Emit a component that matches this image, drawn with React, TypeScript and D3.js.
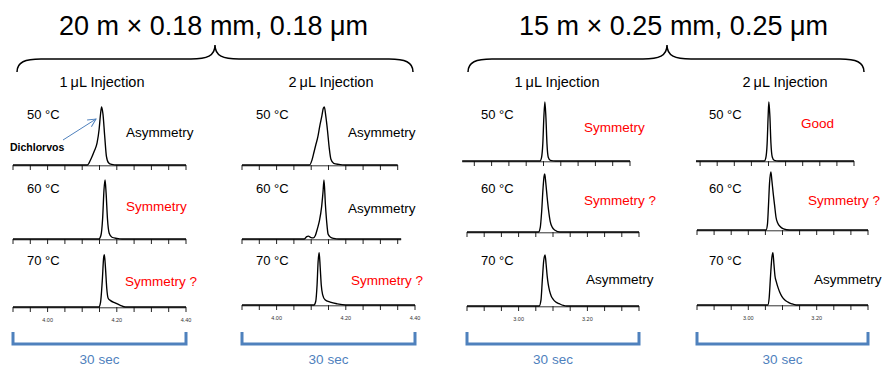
import React from "react";
import * as d3 from "d3";

// ---------- data ----------
const COLUMN_TITLES = ["20 m × 0.18 mm, 0.18 μm", "15 m × 0.25 mm, 0.25 μm"];
const INJECTION_VOLUMES = ["1", "2", "1", "2"];
const INJECTION_UNIT = "μL Injection";
const TEMPERATURES = ["50 °C", "60 °C", "70 °C"];
const DOMAIN_20M: [number, number] = [3.9, 4.4];
const DOMAIN_15M: [number, number] = [2.85, 3.35];
const TICK_LABELS_20M = [4.0, 4.2, 4.4];
const TICK_LABELS_15M = [3.0, 3.2];
const TICK_STEP = 0.05;
const BRACKET_LABEL = "30 sec";
const COMPOUND = "Dichlorvos";

const QUALITY_20M_1UL = ["Asymmetry", "Symmetry", "Symmetry ?"];
const QUALITY_20M_2UL = ["Asymmetry", "Asymmetry", "Symmetry ?"];
const QUALITY_15M_1UL = ["Symmetry", "Symmetry ?", "Asymmetry"];
const QUALITY_15M_2UL = ["Good", "Symmetry ?", "Asymmetry"];

// chromatograms: [retention time (min), relative intensity]
const T_20M_1UL_50 = [[3.9,0],[4.115,0],[4.125,10],[4.135,24],[4.143,38],[4.149,62],[4.153,88],[4.156,100],[4.16,88],[4.165,50],[4.17,15],[4.176,4],[4.185,1],[4.2,0],[4.4,0]];
const T_20M_1UL_60 = [[3.9,0],[4.148,0],[4.154,6],[4.159,35],[4.163,85],[4.166,102],[4.169,80],[4.173,35],[4.178,10],[4.186,3],[4.2,1],[4.215,0],[4.4,0]];
const T_20M_1UL_70 = [[3.9,0],[4.148,0],[4.153,8],[4.158,45],[4.162,85],[4.164,90],[4.167,70],[4.171,32],[4.175,15],[4.182,11],[4.195,7],[4.21,3],[4.225,0],[4.4,0]];
const T_20M_2UL_50 = [[3.9,0],[4.095,0],[4.102,8],[4.108,22],[4.113,34],[4.119,48],[4.125,68],[4.131,85],[4.135,98],[4.138,100],[4.142,85],[4.147,60],[4.152,30],[4.157,10],[4.165,3],[4.18,1],[4.198,0],[4.35,0]];
const T_20M_2UL_60 = [[3.9,0],[4.08,0],[4.087,4],[4.092,5],[4.098,3],[4.106,2],[4.112,6],[4.118,18],[4.124,32],[4.13,55],[4.134,80],[4.137,102],[4.141,60],[4.145,28],[4.149,8],[4.156,3],[4.165,1],[4.18,0],[4.36,0]];
const T_20M_2UL_70 = [[3.9,0],[4.108,0],[4.113,6],[4.117,35],[4.12,75],[4.123,90],[4.126,65],[4.129,35],[4.133,18],[4.14,9],[4.155,5],[4.175,2],[4.2,0],[4.4,0]];
const T_15M_1UL_50 = [[2.865,0],[3.09,0],[3.094,5],[3.098,30],[3.101,75],[3.104,102],[3.107,75],[3.11,30],[3.114,6],[3.12,1],[3.135,0],[3.35,0]];
const T_15M_1UL_60 = [[2.85,0],[3.058,0],[3.063,8],[3.067,35],[3.071,75],[3.074,96],[3.076,100],[3.079,85],[3.083,60],[3.087,38],[3.092,18],[3.098,8],[3.106,3],[3.12,0],[3.35,0]];
const T_15M_1UL_70 = [[2.85,0],[3.06,0],[3.065,10],[3.069,45],[3.073,78],[3.077,88],[3.08,72],[3.083,52],[3.086,38],[3.09,26],[3.095,17],[3.1,12],[3.108,7],[3.118,4],[3.13,1],[3.14,0],[3.35,0]];
const T_15M_2UL_50 = [[2.888,0],[3.088,0],[3.092,5],[3.096,30],[3.099,78],[3.101,102],[3.104,78],[3.107,32],[3.111,7],[3.117,1],[3.13,0],[3.35,0]];
const T_15M_2UL_60 = [[2.85,0],[3.052,0],[3.056,10],[3.059,42],[3.062,80],[3.066,100],[3.069,85],[3.073,62],[3.077,42],[3.081,22],[3.086,12],[3.093,6],[3.103,2],[3.12,0],[3.35,0]];
const T_15M_2UL_70 = [[2.85,0],[3.057,0],[3.061,12],[3.065,50],[3.069,82],[3.072,90],[3.075,70],[3.078,50],[3.082,40],[3.087,30],[3.092,22],[3.098,15],[3.106,9],[3.116,5],[3.127,2],[3.14,0],[3.35,0]];

// ---------- layout ----------
const FONT = "'Liberation Sans', Arial, Helvetica, sans-serif";
const RED = "#ff0000";
const BLUE = "#4f81bd";
const PEAK_PX = 58;
const TEMP_Y = [119, 193, 265];

const PANELS = [
  {
    domain: DOMAIN_20M, ticks: TICK_LABELS_20M, traces: [T_20M_1UL_50, T_20M_1UL_60, T_20M_1UL_70],
    quality: QUALITY_20M_1UL, rows: [[13, 186, 165], [13, 186, 239], [13, 186, 307]],
    tempX: 27, qualPos: [[126, 137], [126, 211], [125, 286]], injX: 102,
  },
  {
    domain: DOMAIN_20M, ticks: TICK_LABELS_20M, traces: [T_20M_2UL_50, T_20M_2UL_60, T_20M_2UL_70],
    quality: QUALITY_20M_2UL, rows: [[242, 415, 165], [242, 415, 239], [242, 415, 305]],
    tempX: 256, qualPos: [[348, 137], [348, 213], [351, 285]], injX: 331,
  },
  {
    domain: DOMAIN_15M, ticks: TICK_LABELS_15M, traces: [T_15M_1UL_50, T_15M_1UL_60, T_15M_1UL_70],
    quality: QUALITY_15M_1UL, rows: [[457, 630, 161], [467, 639, 232], [467, 639, 306]],
    tempX: 481, qualPos: [[584, 132], [584, 205], [586, 284]], injX: 557,
  },
  {
    domain: DOMAIN_15M, ticks: TICK_LABELS_15M, traces: [T_15M_2UL_50, T_15M_2UL_60, T_15M_2UL_70],
    quality: QUALITY_15M_2UL, rows: [[683, 854, 161], [697, 868, 230], [697, 868, 305]],
    tempX: 709, qualPos: [[801, 128], [808, 205], [814, 284]], injX: 785,
  },
];

const HEADERS = [
  { cx: 213.5, brace: [17, 215, 413] },
  { cx: 673.5, brace: [468, 667, 864] },
];

function bracePath(x0: number, xm: number, x1: number) {
  const yEnd = 72, yArm = 59, yTip = 45;
  return `M${x0},${yEnd} C${x0},${yArm + 3} ${x0 + 8},${yArm} ${x0 + 24},${yArm} L${xm - 24},${yArm} C${xm - 8},${yArm} ${xm},${yArm - 3} ${xm},${yTip} C${xm},${yArm - 3} ${xm + 8},${yArm} ${xm + 24},${yArm} L${x1 - 24},${yArm} C${x1 - 8},${yArm} ${x1},${yArm + 3} ${x1},${yEnd}`;
}

function Trace({ data, domain, row, showLabels, ticks }: any) {
  const [x0, x1, base] = row;
  const x = d3.scaleLinear().domain(domain).range([x0, x1]);
  const y = d3.scaleLinear().domain([0, 100]).range([base, base - PEAK_PX]);
  const line = d3.line<number[]>().x((d) => x(d[0])).y((d) => y(d[1])).curve(d3.curveMonotoneX);
  const tMin = data[0][0], tMax = data[data.length - 1][0];
  const tickVals = d3.range(domain[0], domain[1] + TICK_STEP / 2, TICK_STEP)
    .filter((t) => t >= tMin - 0.004 && t <= tMax + 0.004);
  return (
    <g>
      <line x1={x(tMin)} x2={x(tMax)} y1={base + 0.8} y2={base + 0.8} stroke="#333" strokeWidth={1} />
      {tickVals.map((t, i) => (
        <line key={i} x1={x(t)} x2={x(t)} y1={base} y2={base + 5} stroke="#222" strokeWidth={1} />
      ))}
      <path d={line(data as any) || ""} fill="none" stroke="#000" strokeWidth={1.35} />
      {showLabels && ticks.map((t: number, i: number) => (
        <text key={i} x={x(t)} y={base + 15} fontSize={5.5} textAnchor="middle" fill="#333" fontFamily={FONT}>
          {t.toFixed(2)}
        </text>
      ))}
    </g>
  );
}

export default function App() {
  return (
    <svg width={882} height={368} style={{ position: "absolute", left: 0, top: 0, background: "#fff" }}>
      <defs>
        <marker id="arrowhead" markerWidth="10" markerHeight="10" refX="9" refY="5" orient="auto" markerUnits="userSpaceOnUse">
          <path d="M1,1 L9,5 L1,9" fill="none" stroke={BLUE} strokeWidth={1} />
        </marker>
      </defs>
      <rect x={0} y={0} width={882} height={368} fill="#fff" />
      {HEADERS.map((h, i) => (
        <g key={i}>
          <text x={h.cx} y={35} fontSize={27} textAnchor="middle" fontFamily={FONT} fill="#000">{COLUMN_TITLES[i]}</text>
          <path d={bracePath(h.brace[0], h.brace[1], h.brace[2])} fill="none" stroke="#000" strokeWidth={1.5} />
        </g>
      ))}
      {PANELS.map((p, pi) => {
        const r3 = p.rows[2];
        return (
          <g key={pi}>
            <text x={p.injX} y={87} fontSize={14.5} textAnchor="middle" fontFamily={FONT} fill="#000">
              {INJECTION_VOLUMES[pi]}
              <tspan dx={3}>{INJECTION_UNIT}</tspan>
            </text>
            {p.traces.map((tr, ri) => (
              <g key={ri}>
                <Trace data={tr} domain={p.domain} row={p.rows[ri]} showLabels={ri === 2} ticks={p.ticks} />
                <text x={p.tempX} y={TEMP_Y[ri]} fontSize={13} fontFamily={FONT} fill="#000">{TEMPERATURES[ri]}</text>
                <text x={p.qualPos[ri][0]} y={p.qualPos[ri][1]} fontSize={13.5} fontFamily={FONT}
                  fill={p.quality[ri] === "Asymmetry" ? "#000" : RED}>{p.quality[ri]}</text>
              </g>
            ))}
            <path d={`M${r3[0]},332 V344 H${r3[1]} V332`} fill="none" stroke={BLUE} strokeWidth={3} />
            <text x={(r3[0] + r3[1]) / 2} y={364} fontSize={13.5} textAnchor="middle" fontFamily={FONT} fill={BLUE}>{BRACKET_LABEL}</text>
          </g>
        );
      })}
      <text x={10} y={151} fontSize={10.5} fontWeight="bold" fontFamily={FONT} fill="#000">{COMPOUND}</text>
      <line x1={63} y1={140} x2={96} y2={119} stroke={BLUE} strokeWidth={1} markerEnd="url(#arrowhead)" />
    </svg>
  );
}
